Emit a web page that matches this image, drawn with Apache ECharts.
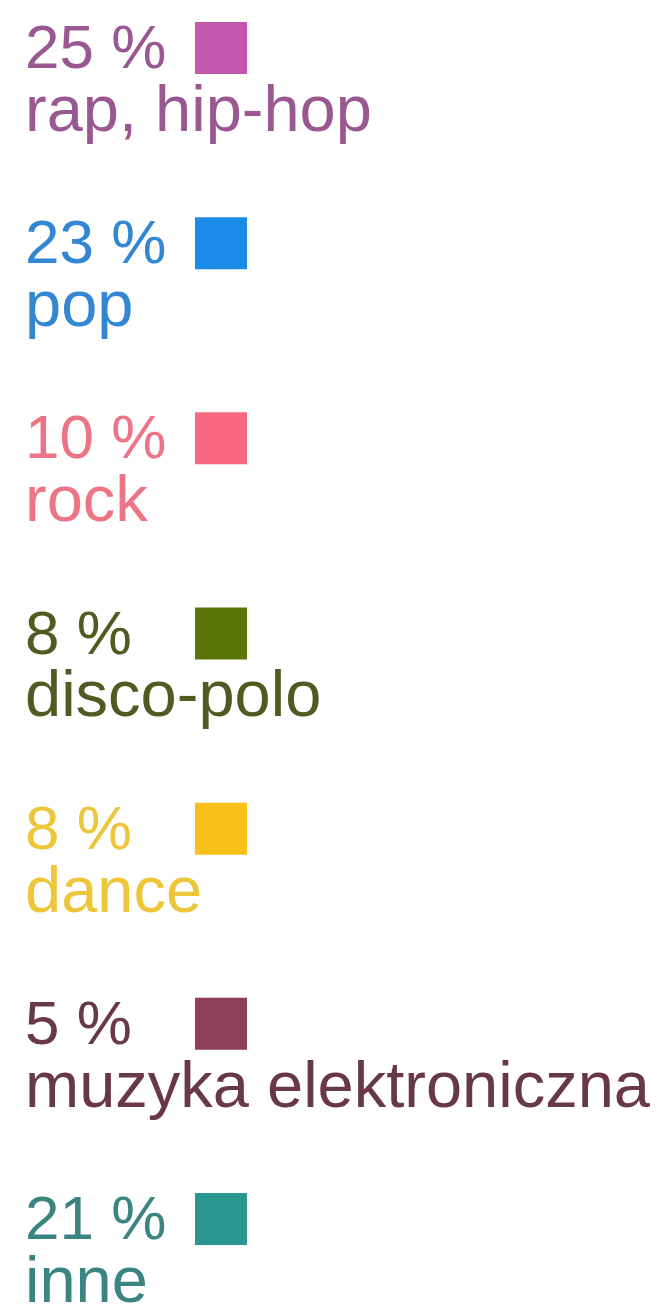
<!DOCTYPE html>
<html>
<head>
<meta charset="utf-8">
<script src="https://cdn.jsdelivr.net/npm/echarts@6/dist/echarts.min.js"></script>
<style>
html,body{margin:0;padding:0;background:#fff;}
#c{width:661px;height:1315px;}
</style>
</head>
<body>
<div id="c"></div>
<script>
// Data
var categories = ['rap, hip-hop', 'pop', 'rock', 'disco-polo', 'dance', 'muzyka elektroniczna', 'inne'];
var percents = [25, 23, 10, 8, 8, 5, 21];
var swatchColors = ['#c458b0', '#1a8ce8', '#f86880', '#5a7408', '#f8c018', '#8e3e56', '#2a9890'];
var textColors = ['#9a5890', '#3286d2', '#ec7484', '#4e5c22', '#eec63a', '#683848', '#3a8482'];

// Layout constants (styles)
var TEXT_X = 25;
var SWATCH_X = 221;

var chart = echarts.init(document.getElementById('c'), null, {renderer: 'canvas'});

var labelData = categories.map(function (c, i) {
  return {
    value: [TEXT_X, c],
    label: {
      rich: {
        p: {fontSize: 62, lineHeight: 62, color: textColors[i], fontFamily: 'Liberation Sans, Arial, sans-serif'},
        l: {fontSize: 65, lineHeight: 62, color: textColors[i], fontFamily: 'Liberation Sans, Arial, sans-serif'}
      }
    }
  };
});
var swatchData = categories.map(function (c, i) {
  return {value: [SWATCH_X, c], itemStyle: {color: swatchColors[i], opacity: 1}};
});

chart.setOption({
  animation: false,
  backgroundColor: '#ffffff',
  grid: {left: 0, right: 0, top: 82, height: 1171},
  xAxis: {type: 'value', min: 0, max: 661, show: false},
  yAxis: {type: 'category', data: categories, inverse: true, boundaryGap: false, show: false},
  series: [
    {
      type: 'scatter',
      data: swatchData,
      symbol: 'rect',
      symbolSize: [52, 52],
      symbolOffset: [0, -34],
      itemStyle: {opacity: 1},
      silent: true
    },
    {
      type: 'scatter',
      data: labelData,
      symbolSize: 0,
      silent: true,
      itemStyle: {opacity: 1},
      label: {
        show: true,
        opacity: 1,
        position: 'right',
        distance: 0,
        align: 'left',
        verticalAlign: 'middle',
        formatter: function (p) {
          return '{p|' + percents[p.dataIndex] + ' %}\n{l|' + categories[p.dataIndex] + '}';
        }
      }
    }
  ]
});
</script>
</body>
</html>
